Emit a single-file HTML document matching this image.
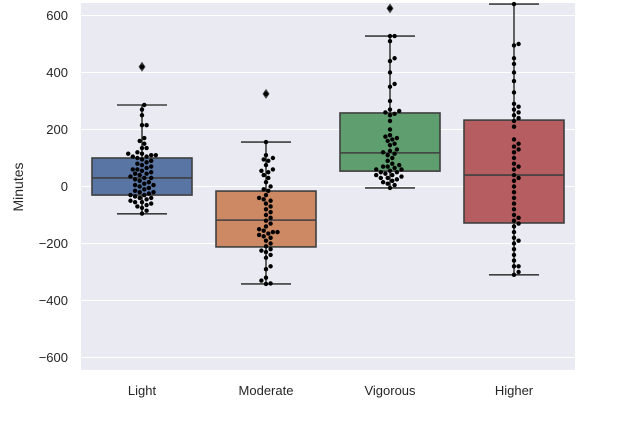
<!DOCTYPE html>
<html><head><meta charset="utf-8"><style>
body{margin:0;background:#fff}
svg{display:block;font-family:"Liberation Sans","DejaVu Sans",sans-serif}
</style></head><body>
<svg id="c" width="640" height="423"></svg>
<script>
const categories=["Light","Moderate","Vigorous","Higher"];
const colors=["#5975a4","#cc8963","#5f9e6e","#b55d60"];
const whiskerHigh=[286,156,528,640];
const q3=[100,-16,258,233];
const medians=[30,-118,118,40];
const q1=[-30,-212,54,-128];
const whiskerLow=[-96,-342,-5,-310];
const outliers=[[420],[325],[625],[]];
const lightVals=[420,286,270,250,215,215,170,160,150,135,135,120,115,115,110,110,105,105,100,95,90,85,80,75,70,65,60,60,55,50,45,45,40,35,30,30,25,20,15,10,5,5,0,-5,-10,-15,-20,-20,-25,-30,-30,-35,-40,-40,-45,-50,-55,-55,-60,-65,-70,-75,-85,-95];
const moderateVals=[325,156,110,100,95,90,75,60,55,50,40,30,15,0,-10,-15,-30,-40,-45,-50,-60,-70,-80,-90,-100,-110,-120,-130,-140,-150,-155,-160,-160,-165,-170,-175,-180,-190,-200,-210,-220,-225,-230,-240,-250,-280,-290,-320,-330,-340,-342];
const vigorousVals=[625,528,528,510,450,440,400,360,350,300,270,265,260,255,250,230,200,180,175,170,165,160,150,145,130,125,120,115,110,100,90,80,75,70,70,65,60,60,55,50,50,45,40,40,35,30,30,25,20,15,10,5,-5];
const higherVals=[640,500,495,450,430,400,370,330,290,280,270,260,250,240,230,210,165,150,140,130,120,100,80,70,60,40,30,20,0,-20,-40,-60,-80,-100,-110,-120,-130,-140,-160,-180,-190,-200,-220,-240,-260,-280,-280,-300,-310];
const yTicks=[-600,-400,-200,0,200,400,600];
const allVals=[lightVals,moderateVals,vigorousVals,higherVals];

const NS="http://www.w3.org/2000/svg",svg=document.getElementById('c');
const L=81,R=575,T=3,B=370;
const y=v=>186.5-v*0.285;
const x=i=>142+i*124;
function el(t,a,p){const e=document.createElementNS(NS,t);for(const k in a)e.setAttribute(k,a[k]);(p||svg).appendChild(e);return e;}
const bg=el('rect',{x:L,y:T,width:R-L,height:B-T,fill:'#eaeaf2'});


yTicks.forEach(t=>{
 const g=el('line',{x1:L,x2:R,y1:y(t),y2:y(t),stroke:'#fff','stroke-width':1});
 
 
 const tx=el('text',{x:L-13,y:y(t)+4.5,'text-anchor':'end','font-size':13,fill:'#262626'});
 tx.textContent=t<0?'\u2212'+(-t):String(t);
 
 
});
const yl=el('text',{x:0,y:0,transform:'translate(23,187) rotate(-90)','text-anchor':'middle','font-size':14,fill:'#262626'});
yl.textContent='Minutes';


const ec='#3f3f3f';
categories.forEach((c,i)=>{
 const cx=x(i),hw=50;
 const g=el('g',{});
 
 
 el('line',{x1:cx,x2:cx,y1:y(whiskerHigh[i]),y2:y(q3[i]),stroke:ec,'stroke-width':1.6},g);
 el('line',{x1:cx,x2:cx,y1:y(q1[i]),y2:y(whiskerLow[i]),stroke:ec,'stroke-width':1.6},g);
 el('line',{x1:cx-25,x2:cx+25,y1:y(whiskerHigh[i]),y2:y(whiskerHigh[i]),stroke:ec,'stroke-width':1.6},g);
 el('line',{x1:cx-25,x2:cx+25,y1:y(whiskerLow[i]),y2:y(whiskerLow[i]),stroke:ec,'stroke-width':1.6},g);
 el('rect',{x:cx-hw,y:y(q3[i]),width:2*hw,height:y(q1[i])-y(q3[i]),fill:colors[i],stroke:ec,'stroke-width':1.6},g);
 el('line',{x1:cx-hw,x2:cx+hw,y1:y(medians[i]),y2:y(medians[i]),stroke:ec,'stroke-width':1.6},g);
 outliers[i].forEach(o=>{const d=el('path',{d:`M${cx} ${y(o)-5}L${cx+3.5} ${y(o)}L${cx} ${y(o)+5}L${cx-3.5} ${y(o)}Z`,fill:ec},g);
  
  });
 const placed=[],r=2.2,dia=4.6;
 allVals[i].slice().sort((a,b)=>a-b).forEach(v=>{
  const py=y(v);let ox=0;
  for(let k=0;k<40;k++){
   const cand=k===0?0:(k%2?1:-1)*Math.ceil(k/2)*dia*0.5;
   if(placed.every(p=>Math.hypot(p[0]-cand,p[1]-py)>=dia)){ox=cand;break;}
  }
  placed.push([ox,py]);
  const d=el('circle',{cx:cx+ox,cy:py,r:r,fill:'#000'});
  
  
 });
 const t=el('text',{x:cx,y:395,'text-anchor':'middle','font-size':13,fill:'#262626'});
 t.textContent=c;
 
 
});
</script>
</body></html>
